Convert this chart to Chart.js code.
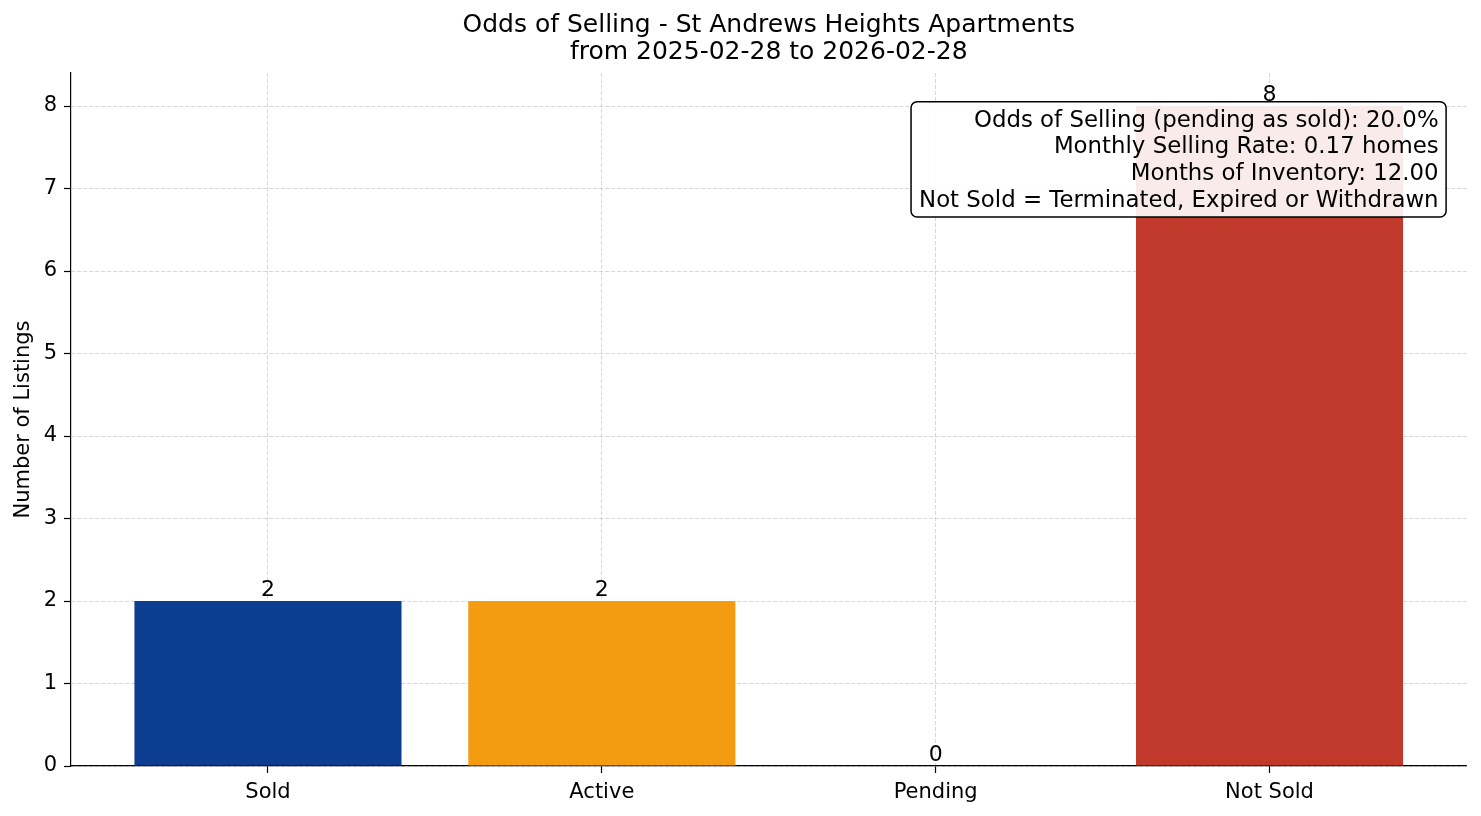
<!DOCTYPE html>
<html>
<head>
<meta charset="utf-8">
<script src="https://cdn.jsdelivr.net/npm/chart.js@4/dist/chart.umd.min.js"></script>
<style>
  html, body { margin: 0; padding: 0; background: #ffffff; }
  #wrap { width: 1481px; height: 816px; }
</style>
</head>
<body>
<div id="wrap"><canvas id="c" width="1481" height="816"></canvas></div>
<script>
// ---- data ----
const categories = ['Sold', 'Active', 'Pending', 'Not Sold'];
const listingCounts = [2, 2, 0, 8];
const barColors = ['#0b3d91', '#f39c12', '#27ae60', '#c0392b'];
const yTicks = [0, 1, 2, 3, 4, 5, 6, 7, 8];
const titleLines = ['Odds of Selling - St Andrews Heights Apartments', 'from 2025-02-28 to 2026-02-28'];
const yAxisTitle = 'Number of Listings';
const annotationLines = [
  'Odds of Selling (pending as sold): 20.0%',
  'Monthly Selling Rate: 0.17 homes',
  'Months of Inventory: 12.00',
  'Not Sold = Terminated, Expired or Withdrawn'
];

const FONT = '"DejaVu Sans", "Liberation Sans", sans-serif';

const barLabelPlugin = {
  id: 'barLabels',
  afterDraw(chart) {
    const ctx = chart.ctx;
    const meta = chart.getDatasetMeta(0);
    const fs = 22;
    ctx.save();
    ctx.font = fs + 'px ' + FONT;
    ctx.fillStyle = '#000';
    ctx.textAlign = 'center';
    ctx.textBaseline = 'alphabetic';
    meta.data.forEach((bar, i) => {
      ctx.fillText(String(listingCounts[i]), bar.x, bar.y - 0.236 * fs);
    });
    ctx.restore();
  }
};

const infoBoxPlugin = {
  id: 'infoBox',
  afterDraw(chart) {
    const ctx = chart.ctx;
    const a = chart.chartArea;
    const fs = 22.85;
    const lineGap = 26.7;
    ctx.save();
    ctx.font = fs + 'px ' + FONT;
    const textRight = a.left + 0.98 * (a.right - a.left);
    const textTop = a.bottom - 0.95 * (a.bottom - a.top);
    const firstBase = textTop + 19;
    let maxW = 0;
    annotationLines.forEach(l => { maxW = Math.max(maxW, ctx.measureText(l).width); });
    const bx0 = textRight - maxW - 8;
    const bx1 = textRight + 7.5;
    const by0 = firstBase - 25;
    const by1 = firstBase + lineGap * (annotationLines.length - 1) + 10.3;
    ctx.beginPath();
    ctx.roundRect(bx0, by0, bx1 - bx0, by1 - by0, 6);
    ctx.fillStyle = 'rgba(255,255,255,0.9)';
    ctx.fill();
    ctx.lineWidth = 1.5;
    ctx.strokeStyle = '#000';
    ctx.stroke();
    ctx.fillStyle = '#000';
    ctx.textAlign = 'right';
    ctx.textBaseline = 'alphabetic';
    annotationLines.forEach((l, i) => {
      ctx.fillText(l, textRight, firstBase + i * lineGap);
    });
    ctx.restore();
  }
};

const gridCfg = () => ({
  color: 'rgba(170,170,170,0.6)',
  lineWidth: 0.8,
  tickColor: '#000',
  tickWidth: 1.2,
  tickLength: 7,
  drawTicks: true,
  offset: false
});
const borderCfg = () => ({ display: true, color: '#000', width: 1.2, dash: [4, 2] });

new Chart(document.getElementById('c'), {
  type: 'bar',
  data: {
    datasets: [{
      data: listingCounts.map((v, i) => ({ x: i, y: v })),
      backgroundColor: barColors,
      borderWidth: 0,
      categoryPercentage: 1.0,
      barPercentage: 0.8
    }]
  },
  options: {
    responsive: false,
    animation: false,
    devicePixelRatio: 1,
    layout: { padding: { left: 0, right: 14.5, top: 0, bottom: 0 } },
    plugins: {
      legend: { display: false },
      tooltip: { enabled: false },
      title: {
        display: true,
        text: titleLines,
        fullSize: false,
        color: '#000',
        font: { family: FONT, size: 25, weight: 'normal', lineHeight: 1.068 },
        padding: { top: 12.4, bottom: 7.2 }
      }
    },
    scales: {
      x: {
        type: 'linear',
        position: 'bottom',
        min: -0.59,
        max: 3.59,
        offset: false,
        z: 1,
        grid: gridCfg(),
        border: borderCfg(),
        afterBuildTicks(scale) { scale.ticks = categories.map((c, i) => ({ value: i })); },
        afterFit(scale) { scale.height = 50; },
        ticks: {
          color: '#000',
          font: { family: FONT, size: 21 },
          padding: 7,
          autoSkip: false,
          maxRotation: 0,
          callback: (v) => categories[Math.round(v)]
        }
      },
      y: {
        type: 'linear',
        position: 'left',
        min: 0,
        max: 8.4,
        z: 1,
        grid: gridCfg(),
        border: borderCfg(),
        afterBuildTicks(scale) { scale.ticks = yTicks.map(v => ({ value: v })); },
        afterFit(scale) { scale.width = 71; },
        ticks: {
          color: '#000',
          font: { family: FONT, size: 21 },
          padding: 7,
          callback: (v) => String(v)
        },
        title: {
          display: true,
          text: yAxisTitle,
          color: '#000',
          font: { family: FONT, size: 21 },
          padding: { top: 11, bottom: 0 }
        }
      }
    }
  },
  plugins: [barLabelPlugin, infoBoxPlugin]
});
</script>
</body>
</html>
